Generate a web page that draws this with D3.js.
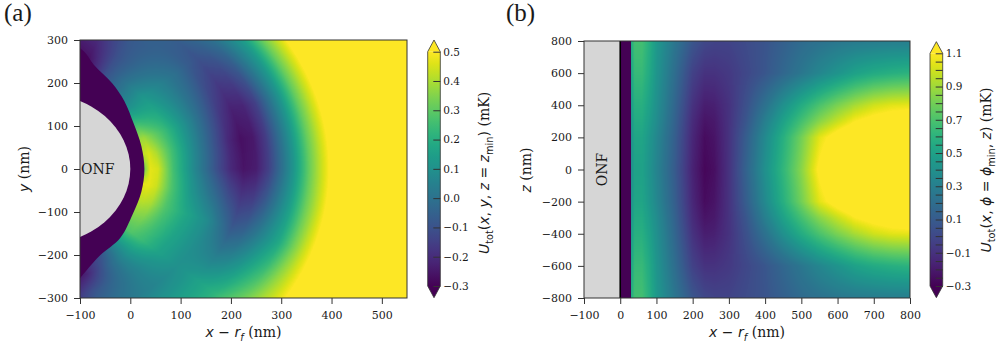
<!DOCTYPE html>
<html>
<head>
<meta charset="utf-8">
<script src="https://cdn.jsdelivr.net/npm/d3@7"></script>
<style>
    body { margin: 0; background: #fff; }
    svg { display: block; }
    text { fill: #1a1a1a; }
    .tick text { font-family: "DejaVu Serif"; }
    .tick line { stroke: #333; }
</style>
</head>
<body>
<svg id="fig" width="996" height="343"></svg>
<script>
// fibre radius (nm); horizontal axis is x - r_f
const fiberRadius = 175;

// ---- panel (a): radial profiles of U_tot (mK) around the fibre axis, one row per polar angle ----
const thetaA = [-80, -70, -60, -40, -20, -10, 0, 10, 20, 40, 60, 70, 80];
const rNodesA = [200, 215, 230, 260, 300, 350, 375, 400, 425, 450, 500, 530, 552, 572, 600, 800];
const uA = [
    [-0.35, -0.35, -0.35, -0.32, -0.22, -0.12, -0.07, -0.02, 0.03, 0.08, 0.18, 0.30, 0.42, 0.51, 0.80, 1.00],
    [-0.22, -0.22, -0.22, -0.22, -0.10, -0.02, 0.02, 0.05, 0.10, 0.15, 0.25, 0.35, 0.43, 0.51, 0.80, 1.00],
    [-0.10, -0.10, -0.10, -0.05, -0.02, 0.02, 0.07, 0.12, 0.17, 0.22, 0.32, 0.40, 0.45, 0.51, 0.80, 1.00],
    [0.28, 0.28, 0.28, 0.24, 0.16, 0.10, 0.12, 0.15, 0.18, 0.22, 0.35, 0.42, 0.46, 0.51, 0.80, 1.00],
    [0.42, 0.42, 0.40, 0.28, 0.18, 0.08, 0.00, -0.08, -0.05, 0.02, 0.18, 0.33, 0.43, 0.51, 0.80, 1.00],
    [0.47, 0.47, 0.44, 0.28, 0.12, -0.03, -0.11, -0.17, -0.15, -0.07, 0.15, 0.32, 0.42, 0.51, 0.80, 1.00],
    [0.30, 0.47, 0.45, 0.26, 0.08, -0.12, -0.21, -0.26, -0.24, -0.15, 0.12, 0.31, 0.42, 0.51, 0.80, 1.00],
    [0.42, 0.45, 0.40, 0.26, 0.09, -0.11, -0.21, -0.27, -0.25, -0.16, 0.12, 0.31, 0.42, 0.51, 0.80, 1.00],
    [0.38, 0.38, 0.33, 0.24, 0.10, -0.08, -0.17, -0.23, -0.22, -0.15, 0.12, 0.31, 0.42, 0.51, 0.80, 1.00],
    [0.10, 0.10, 0.10, 0.12, 0.06, -0.02, -0.07, -0.10, -0.07, -0.02, 0.15, 0.32, 0.42, 0.51, 0.80, 1.00],
    [-0.10, -0.10, -0.10, -0.10, -0.10, -0.08, -0.05, -0.02, 0.04, 0.10, 0.20, 0.35, 0.43, 0.51, 0.80, 1.00],
    [-0.30, -0.30, -0.30, -0.28, -0.23, -0.17, -0.11, -0.05, 0.00, 0.05, 0.20, 0.35, 0.43, 0.51, 0.80, 1.00],
    [-0.35, -0.35, -0.35, -0.32, -0.27, -0.20, -0.15, -0.10, -0.05, 0.00, 0.15, 0.30, 0.42, 0.51, 0.80, 1.00]
];

// outer edge of the saturated (U < -0.3 mK) shell: polar angle (deg), distance from fibre surface (nm)
const bandTheta = [-84, -76, -70, -60, -46, -30, -15, 0, 15, 30, 44, 55, 67, 73, 80, 86];
const bandDist = [150, 100, 78, 56, 48, 33, 29, 28, 29, 35, 52, 68, 88, 110, 130, 160];

const xTicksA = [-100, 0, 100, 200, 300, 400, 500];
const yTicksA = [-300, -200, -100, 0, 100, 200, 300];
const cbarTicksA = [-0.3, -0.2, -0.1, 0.0, 0.1, 0.2, 0.3, 0.4, 0.5];

// ---- panel (b): profiles of U_tot (mK) along x - r_f, one row per |z| (nm) ----
const xNodesB = [0, 28, 30, 40, 60, 80, 100, 150, 200, 233, 260, 300, 350, 400, 450, 500, 550, 600, 650, 700, 750, 800];
const zRowsB = [0, 200, 300, 400, 600, 800];
const uB = [
    [-1, -1, 0.38, 0.50, 0.50, 0.42, 0.33, 0.10, -0.17, -0.28, -0.25, -0.10, 0.15, 0.40, 0.62, 0.85, 1.13, 1.30, 1.40, 1.45, 1.48, 1.50],
    [-1, -1, 0.40, 0.52, 0.52, 0.44, 0.35, 0.12, -0.15, -0.26, -0.23, -0.10, 0.12, 0.36, 0.58, 0.80, 1.04, 1.18, 1.28, 1.34, 1.38, 1.40],
    [-1, -1, 0.42, 0.55, 0.55, 0.47, 0.38, 0.14, -0.13, -0.23, -0.21, -0.10, 0.08, 0.30, 0.50, 0.68, 0.85, 0.98, 1.10, 1.16, 1.20, 1.22],
    [-1, -1, 0.45, 0.58, 0.58, 0.50, 0.40, 0.16, -0.10, -0.19, -0.18, -0.10, 0.05, 0.22, 0.40, 0.56, 0.70, 0.82, 0.92, 1.00, 1.04, 1.05],
    [-1, -1, 0.50, 0.64, 0.64, 0.55, 0.43, 0.20, -0.03, -0.10, -0.10, -0.07, 0.00, 0.07, 0.16, 0.25, 0.34, 0.42, 0.50, 0.55, 0.58, 0.60],
    [-1, -1, 0.55, 0.68, 0.68, 0.58, 0.45, 0.25, 0.07, 0.00, -0.02, -0.02, 0.02, 0.06, 0.12, 0.18, 0.22, 0.25, 0.27, 0.28, 0.29, 0.29]
];

const xTicksB = [-100, 0, 100, 200, 300, 400, 500, 600, 700, 800];
const yTicksB = [-800, -600, -400, -200, 0, 200, 400, 600, 800];
const cbarLabelsB = [-0.3, -0.1, 0.1, 0.3, 0.5, 0.7, 0.9, 1.1];

const svg = d3.select("#fig");
const lut = d3.range(256).map(k => d3.rgb(d3.interpolateViridis(k / 255)));
const gray = "#d6d6d6";

// rasterise a scalar field into an <image> covering the plot area
function drawField(g, xs, ys, lo, hi, valueAt) {
    const x0 = xs.range()[0], x1 = xs.range()[1];
    const y0 = ys.range()[1], y1 = ys.range()[0];
    const w = Math.round(x1 - x0), h = Math.round(y1 - y0);
    const canvas = document.createElement("canvas");
    canvas.width = w;
    canvas.height = h;
    const ctx = canvas.getContext("2d");
    const img = ctx.createImageData(w, h);
    for (let j = 0; j < h; j++) {
        const yv = ys.invert(y0 + j + 0.5);
        for (let i = 0; i < w; i++) {
            const xv = xs.invert(x0 + i + 0.5);
            const v = valueAt(xv, yv);
            let t = (v - lo) / (hi - lo);
            t = Math.max(0, Math.min(1, t));
            const c = lut[Math.round(t * 255)];
            const k = 4 * (j * w + i);
            img.data[k] = c.r;
            img.data[k + 1] = c.g;
            img.data[k + 2] = c.b;
            img.data[k + 3] = 255;
        }
    }
    ctx.putImageData(img, 0, 0);
    g.append("image")
        .attr("x", x0).attr("y", y0)
        .attr("width", w).attr("height", h)
        .attr("preserveAspectRatio", "none")
        .attr("href", canvas.toDataURL());
}

// text made of tspans: mathtext-like parts (DejaVu Sans) and plain serif parts
function richText(g, parts, size) {
    const t = g.append("text").style("white-space", "pre").attr("font-size", size);
    let shift = 0;
    parts.forEach(p => {
        const target = p.sub ? 0.3 * size : 0;
        t.append("tspan")
            .attr("font-family", p.serif ? "DejaVu Serif" : "DejaVu Sans")
            .attr("font-style", p.it ? "italic" : "normal")
            .attr("font-size", p.sub ? size * 0.7 : size)
            .attr("dy", target - shift)
            .text(p.t);
        shift = target;
    });
    return t;
}

function axes(g, xs, ys, xt, yt) {
    g.append("g")
        .attr("transform", "translate(0," + ys.range()[0] + ")")
        .call(d3.axisBottom(xs).tickValues(xt).tickSize(6).tickPadding(7).tickFormat(d3.format("d")))
        .call(a => a.select(".domain").remove())
        .call(a => a.selectAll("text").attr("font-size", 11));
    g.append("g")
        .attr("transform", "translate(" + xs.range()[0] + ",0)")
        .call(d3.axisLeft(ys).tickValues(yt).tickSize(6).tickPadding(6).tickFormat(d3.format("d")))
        .call(a => a.select(".domain").remove())
        .call(a => a.selectAll("text").attr("font-size", 11));
    g.append("rect")
        .attr("x", xs.range()[0]).attr("y", ys.range()[1])
        .attr("width", xs.range()[1] - xs.range()[0])
        .attr("height", ys.range()[0] - ys.range()[1])
        .attr("fill", "none").attr("stroke", "#333").attr("stroke-width", 1);
}

function colorbar(g, cs, x0, w, id, minor, labels, fmt) {
    const lo = cs.domain()[0], hi = cs.domain()[1];
    const top = cs(hi), bot = cs(lo);
    const ext = 0.05 * (bot - top);
    const grad = svg.append("defs").append("linearGradient")
        .attr("id", id).attr("x1", 0).attr("y1", 1).attr("x2", 0).attr("y2", 0);
    d3.range(0, 1.0001, 0.05).forEach(t => {
        grad.append("stop").attr("offset", t).attr("stop-color", d3.interpolateViridis(t));
    });
    g.append("rect").attr("x", x0).attr("y", top).attr("width", w).attr("height", bot - top)
        .attr("fill", "url(#" + id + ")");
    g.append("path")
        .attr("d", "M" + x0 + "," + top + "L" + (x0 + w / 2) + "," + (top - ext) + "L" + (x0 + w) + "," + top + "Z")
        .attr("fill", d3.interpolateViridis(1));
    g.append("path")
        .attr("d", "M" + x0 + "," + bot + "L" + (x0 + w / 2) + "," + (bot + ext) + "L" + (x0 + w) + "," + bot + "Z")
        .attr("fill", d3.interpolateViridis(0));
    g.append("g")
        .attr("transform", "translate(" + (x0 + w) + ",0)")
        .call(d3.axisRight(cs).tickValues(minor).tickSize(-7).tickPadding(3)
            .tickFormat(d => labels.some(l => Math.abs(l - d) < 1e-6) ? fmt(d) : ""))
        .call(a => a.select(".domain").remove())
        .call(a => a.selectAll("text").attr("font-size", 10.5));
    g.append("path")
        .attr("d", "M" + x0 + "," + top + "L" + (x0 + w / 2) + "," + (top - ext) + "L" + (x0 + w) + "," + top +
            "L" + (x0 + w) + "," + bot + "L" + (x0 + w / 2) + "," + (bot + ext) + "L" + x0 + "," + bot + "Z")
        .attr("fill", "none").attr("stroke", "#333").attr("stroke-width", 0.8);
}

// ================= panel (a) =================
const xA = d3.scaleLinear().domain([-100, 550]).range([80, 407]);
const yA = d3.scaleLinear().domain([-300, 300]).range([298, 40]);
const gA = svg.append("g");
svg.append("clipPath").attr("id", "clipA").append("rect")
    .attr("x", 80).attr("y", 40).attr("width", 327).attr("height", 258);
const plotA = gA.append("g").attr("clip-path", "url(#clipA)");

const rowA = uA.map(row => d3.scaleLinear().domain(rNodesA).range(row).clamp(true));
drawField(plotA, xA, yA, -0.3, 0.5, function (x, y) {
    const X = x + fiberRadius;
    const r = Math.hypot(X, y);
    const th = Math.atan2(y, X) * 180 / Math.PI;
    return d3.scaleLinear().domain(thetaA).range(rowA.map(s => s(r))).clamp(true)(th);
});

// saturated shell next to the fibre
const bandPts = bandTheta.map((t, i) => {
    const a = t * Math.PI / 180, r = fiberRadius + bandDist[i];
    return [xA(r * Math.cos(a) - fiberRadius), yA(r * Math.sin(a))];
});
plotA.append("path")
    .attr("d", d3.line().curve(d3.curveCatmullRom)(bandPts) + "L" + xA(-fiberRadius) + "," + yA(0) + "Z")
    .attr("fill", d3.interpolateViridis(0));

plotA.append("ellipse")
    .attr("cx", xA(-fiberRadius)).attr("cy", yA(0))
    .attr("rx", xA(0) - xA(-fiberRadius)).attr("ry", yA(0) - yA(fiberRadius))
    .attr("fill", gray);
plotA.append("text").attr("x", xA(-98)).attr("y", yA(0) + 5)
    .attr("font-family", "DejaVu Serif").attr("font-size", 14).text("ONF");

axes(gA, xA, yA, xTicksA, yTicksA);

richText(gA, [{ t: "x", it: true }, { t: " \u2212 " }, { t: "r", it: true }, { t: "f", it: true, sub: true }, { t: " (nm)", serif: true }], 14)
    .attr("x", 243.5).attr("y", 337).attr("text-anchor", "middle");
richText(gA, [{ t: "y", it: true }, { t: " (nm)", serif: true }], 14)
    .attr("text-anchor", "middle").attr("transform", "translate(29,169) rotate(-90)");

const cA = d3.scaleLinear().domain([-0.3, 0.5]).range([286, 51.7]);
colorbar(gA, cA, 427.7, 12.6, "gradA", cbarTicksA, cbarTicksA, d3.format(".1f"));
richText(gA, [{ t: "U", it: true }, { t: "tot", sub: true }, { t: "(" }, { t: "x", it: true }, { t: ", " }, { t: "y", it: true },
    { t: ", " }, { t: "z", it: true }, { t: " = " }, { t: "z", it: true }, { t: "min", sub: true }, { t: ")" }, { t: " (mK)", serif: true }], 14)
    .attr("text-anchor", "middle").attr("transform", "translate(489,173) rotate(-90)");

svg.append("text").attr("x", 4).attr("y", 21)
    .attr("font-family", "Liberation Serif").attr("font-size", 25).text("(a)");

// ================= panel (b) =================
const xB = d3.scaleLinear().domain([-100, 800]).range([584, 910]);
const yB = d3.scaleLinear().domain([-800, 800]).range([298, 41]);
const gB = svg.append("g");
svg.append("clipPath").attr("id", "clipB").append("rect")
    .attr("x", 584).attr("y", 41).attr("width", 326).attr("height", 257);
const plotB = gB.append("g").attr("clip-path", "url(#clipB)");

const rowB = uB.map(row => d3.scaleLinear().domain(xNodesB).range(row).clamp(true));
drawField(plotB, xB, yB, -0.3, 1.1, function (x, z) {
    return d3.scaleLinear().domain(zRowsB).range(rowB.map(s => s(x))).clamp(true)(Math.abs(z));
});

plotB.append("rect")
    .attr("x", xB(-100)).attr("y", yB(800))
    .attr("width", xB(0) - xB(-100)).attr("height", yB(-800) - yB(800))
    .attr("fill", gray);
plotB.append("line")
    .attr("x1", xB(0)).attr("x2", xB(0)).attr("y1", yB(800)).attr("y2", yB(-800))
    .attr("stroke", "#000").attr("stroke-width", 1.6);
plotB.append("text")
    .attr("transform", "translate(" + (xB(-50) + 5) + "," + yB(0) + ") rotate(-90)")
    .attr("text-anchor", "middle")
    .attr("font-family", "DejaVu Serif").attr("font-size", 14).text("ONF");

axes(gB, xB, yB, xTicksB, yTicksB);

richText(gB, [{ t: "x", it: true }, { t: " \u2212 " }, { t: "r", it: true }, { t: "f", it: true, sub: true }, { t: " (nm)", serif: true }], 14)
    .attr("x", 747).attr("y", 337).attr("text-anchor", "middle");
richText(gB, [{ t: "z", it: true }, { t: " (nm)", serif: true }], 14)
    .attr("text-anchor", "middle").attr("transform", "translate(531,170) rotate(-90)");

const cB = d3.scaleLinear().domain([-0.3, 1.1]).range([286, 53.3]);
colorbar(gB, cB, 930, 12.7, "gradB", d3.range(-0.3, 1.1001, 0.05), cbarLabelsB, d3.format(".1f"));
richText(gB, [{ t: "U", it: true }, { t: "tot", sub: true }, { t: "(" }, { t: "x", it: true }, { t: ", " }, { t: "\u03d5", it: true },
    { t: " = " }, { t: "\u03d5", it: true }, { t: "min", sub: true }, { t: ", " }, { t: "z", it: true }, { t: ")" }, { t: " (mK)", serif: true }], 14)
    .attr("text-anchor", "middle").attr("transform", "translate(991,170) rotate(-90)");

svg.append("text").attr("x", 506).attr("y", 21)
    .attr("font-family", "Liberation Serif").attr("font-size", 25).text("(b)");
</script>
</body>
</html>
